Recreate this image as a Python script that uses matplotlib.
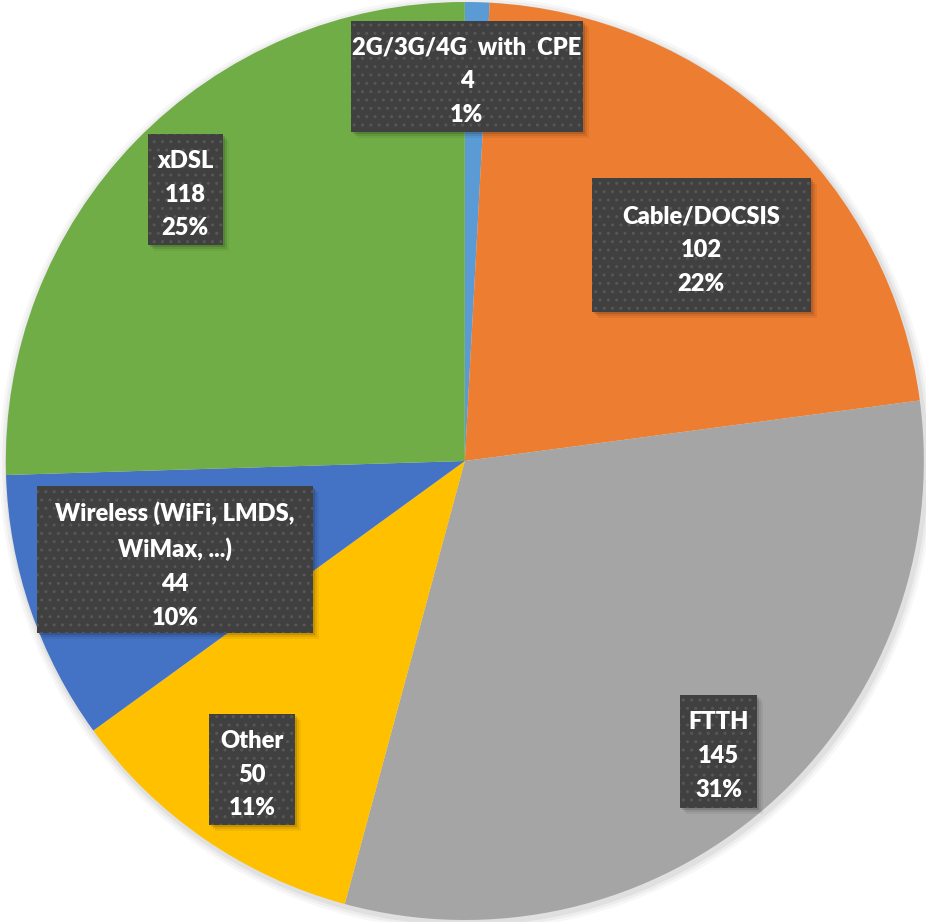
import numpy as np
import matplotlib
import matplotlib.pyplot as plt
from matplotlib.patches import Rectangle, Circle

matplotlib.use('Agg')

# data
labels = ["2G/3G/4G  with  CPE", "Cable/DOCSIS", "FTTH", "Other",
          "Wireless (WiFi, LMDS,\nWiMax, ...)", "xDSL"]
values = [4, 102, 145, 50, 44, 118]
colors = ["#5B9BD5", "#ED7D31", "#A5A5A5", "#FFC000", "#4472C4", "#70AD47"]

# label layout: radial position (fraction of radius), angle nudge (deg, clockwise)
# and box size in pixels
label_radius = [0.838, 0.698, 0.84, 0.817, 0.667, 0.849]
label_nudge = [-1.3, 4.8, 0.0, 0.0, 0.0, 0.0]
box_w_px = [232, 219, 77, 86, 276, 75]
box_h_px = [111, 134, 113, 111, 147, 111]

W, H, DPI = 926, 922, 100
R_PX = 459
CX = 0.004

fig = plt.figure(figsize=(W / DPI, H / DPI), dpi=DPI, facecolor="white")
ax = fig.add_axes([0, 0, 1, 1])

wedges, _ = ax.pie(values, colors=colors, startangle=90, counterclock=False,
                   radius=1.0, center=(CX, 0.0), wedgeprops=dict(linewidth=0))
for w in wedges:
    w.set_zorder(1)

# soft shadow around the pie
for i, a in enumerate([0.05, 0.04, 0.03]):
    ax.add_patch(Circle((CX + 0.004, -0.006), 1.0 + 0.006 * (i + 1), color="black",
                        alpha=a, lw=0, zorder=0))

ax.set_aspect('auto')
ax.set_xlim(-W / 2 / R_PX, W / 2 / R_PX)
ax.set_ylim(-H / 2 / R_PX, H / 2 / R_PX)
ax.axis('off')

total = sum(values)
start = 90.0
for lab, v, r, nd, bw, bh in zip(labels, values, label_radius, label_nudge,
                                 box_w_px, box_h_px):
    sweep = v / total * 360
    mid = np.deg2rad(start - sweep / 2 - nd)
    start -= sweep
    x = CX + r * np.cos(mid)
    y = r * np.sin(mid)
    w, h = bw / R_PX, bh / R_PX
    # drop shadow
    for k, a in enumerate([0.12, 0.08, 0.05]):
        off = (2 + 2 * k) / R_PX
        ax.add_patch(Rectangle((x - w / 2 + off, y - h / 2 - off), w, h,
                               facecolor="black", alpha=a, lw=0, zorder=3))
    ax.add_patch(Rectangle((x - w / 2, y - h / 2), w, h, facecolor="#404040",
                           edgecolor="#575757", linewidth=0, hatch="..", zorder=4))
    pct = round(v / total * 100)
    ax.text(x, y - 5 / R_PX, f"{lab}\n{v}\n{pct}%", ha="center", va="center",
            fontsize=17, fontweight="heavy", color="white",
            family=["Lato", "DejaVu Sans"], linespacing=1.65, zorder=5)

fig.savefig("out.png", dpi=DPI, facecolor="white")
